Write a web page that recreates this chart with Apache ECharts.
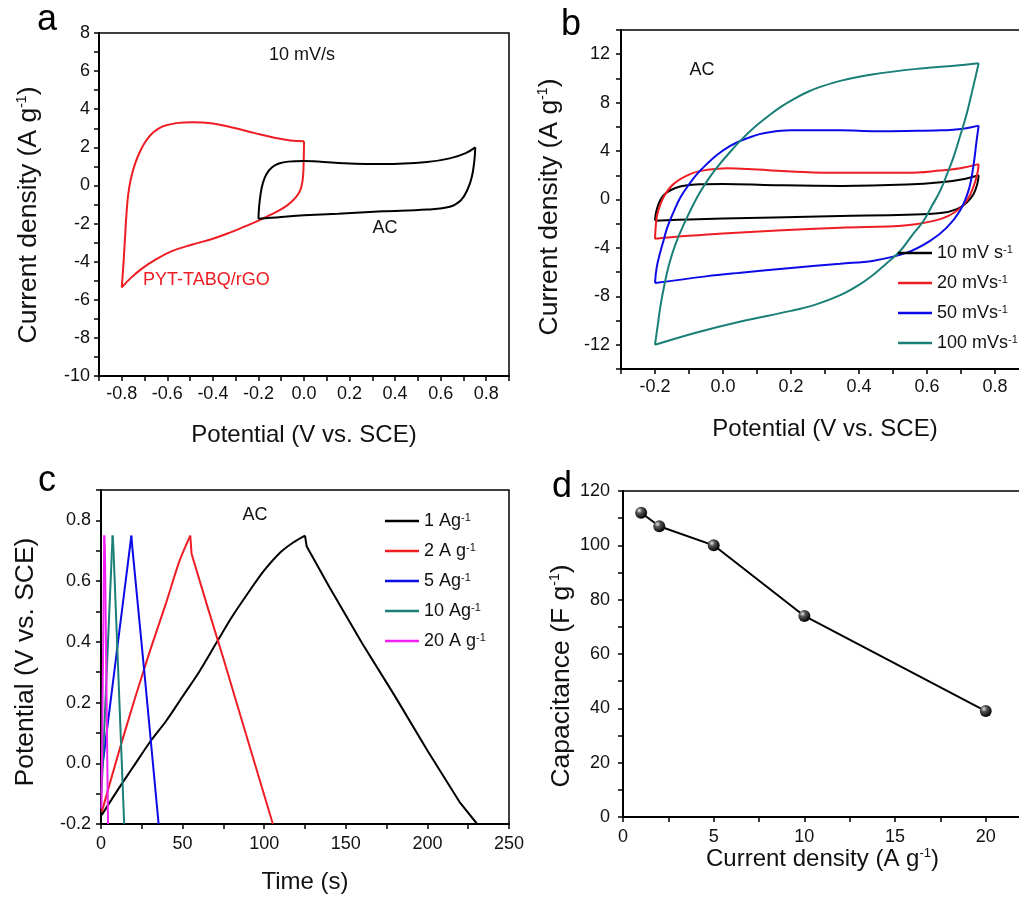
<!DOCTYPE html>
<html>
<head>
<meta charset="utf-8">
<script src="https://cdn.jsdelivr.net/npm/echarts@6/dist/echarts.min.js"></script>
<style>
  html, body { margin: 0; padding: 0; background: #fff; }
  #chart { width: 1019px; height: 898px; }
</style>
</head>
<body>
<div id="chart"></div>
<script>
// ---------- (a) CV at 10 mV/s, PYT-TABQ/rGO: [potential V, current A/g] ----------
const pytAnodic = [
  [-0.80,-5.35],[-0.792,-4.0],[-0.786,-2.8],[-0.78,-1.6],[-0.772,-0.5],[-0.76,0.35],[-0.74,1.2],
  [-0.715,1.9],[-0.69,2.4],[-0.66,2.8],[-0.62,3.1],[-0.56,3.27],[-0.49,3.32],[-0.40,3.25],
  [-0.31,3.03],[-0.22,2.76],[-0.13,2.5],[-0.06,2.36],[0.0,2.32]
];
const pytCathodic = [
  [0.0,2.32],[-0.001,1.5],[-0.004,0.5],[-0.012,-0.1],[-0.025,-0.45],[-0.05,-0.8],[-0.09,-1.18],
  [-0.14,-1.5],[-0.2,-1.85],[-0.26,-2.15],[-0.32,-2.45],[-0.40,-2.8],[-0.49,-3.1],[-0.58,-3.45],
  [-0.65,-3.88],[-0.71,-4.35],[-0.76,-4.85],[-0.80,-5.35]
];

// ---------- (a, b) AC CV loops at several scan rates ----------
const ac10Anodic = [
  [-0.2,-1.75],[-0.197,-1.1],[-0.19,-0.4],[-0.18,0.15],[-0.165,0.59],[-0.14,0.95],[-0.11,1.15],
  [-0.07,1.25],[0.0,1.28],[0.15,1.18],[0.35,1.12],[0.54,1.23],[0.64,1.42],[0.71,1.7],[0.752,2.0]
];
const ac10Cathodic = [
  [0.752,2.0],[0.748,1.3],[0.737,0.46],[0.717,-0.24],[0.688,-0.79],[0.64,-1.12],[0.54,-1.26],
  [0.345,-1.36],[0.15,-1.48],[0.0,-1.57],[-0.1,-1.65],[-0.2,-1.75]
];
const ac20Anodic = [
  [-0.2,-3.25],[-0.198,-2.3],[-0.193,-1.2],[-0.175,0.18],[-0.145,1.29],[-0.095,2.12],[-0.046,2.45],
  [0.013,2.58],[0.1,2.47],[0.2,2.32],[0.345,2.2],[0.54,2.2],[0.64,2.39],[0.697,2.58],[0.752,2.92]
];
const ac20Cathodic = [
  [0.752,2.92],[0.748,2.12],[0.736,1.0],[0.717,-0.1],[0.688,-0.93],[0.639,-1.62],[0.541,-2.12],
  [0.345,-2.33],[0.16,-2.57],[0.0,-2.8],[-0.1,-3.0],[-0.2,-3.25]
];
const ac50Anodic = [
  [-0.2,-6.9],[-0.195,-5.6],[-0.185,-4.4],[-0.175,-3.4],[-0.164,-2.32],[-0.145,-1.0],[-0.125,0.18],
  [-0.1,1.25],[-0.076,2.12],[-0.045,3.0],[-0.017,3.7],[0.02,4.4],[0.052,4.85],[0.09,5.25],
  [0.12,5.47],[0.198,5.71],[0.345,5.71],[0.45,5.64],[0.54,5.66],[0.64,5.71],[0.707,5.85],[0.752,6.1]
];
const ac50Cathodic = [
  [0.752,6.1],[0.746,4.88],[0.736,2.67],[0.722,0.73],[0.697,-0.93],[0.658,-2.32],[0.609,-3.42],
  [0.541,-4.39],[0.443,-5.05],[0.345,-5.3],[0.2,-5.65],[0.052,-6.05],[-0.05,-6.35],[-0.2,-6.9]
];
const ac100Anodic = [
  [-0.2,-12.0],[-0.192,-10.4],[-0.184,-8.8],[-0.172,-7.0],[-0.158,-5.3],[-0.14,-3.7],[-0.115,-2.04],
  [-0.076,0.18],[-0.045,1.6],[-0.017,2.67],[0.02,3.9],[0.052,4.88],[0.09,5.9],[0.13,6.82],
  [0.17,7.65],[0.208,8.3],[0.25,8.9],[0.286,9.3],[0.345,9.8],[0.443,10.35],[0.59,10.85],
  [0.68,11.05],[0.752,11.25]
];
const ac100Cathodic = [
  [0.752,11.25],[0.735,9.2],[0.717,7.1],[0.698,5.3],[0.678,3.5],[0.659,2.1],[0.639,0.73],
  [0.615,-0.5],[0.59,-1.76],[0.555,-3.0],[0.521,-4.25],[0.48,-5.3],[0.443,-6.19],[0.4,-7.05],
  [0.345,-7.9],[0.27,-8.7],[0.2,-9.2],[0.052,-10.07],[-0.08,-11.0],[-0.2,-12.0]
];
const cvRateNames = ['10 mV s', '20 mVs', '50 mVs', '100 mVs'];

// ---------- (c) galvanostatic charge/discharge, [time s, potential V] ----------
const gcd1Charge = [
  [0.5,-0.17],[10,-0.09],[20,-0.01],[30,0.07],[40,0.14],[50,0.22],[60,0.30],[70,0.39],[80,0.48],
  [90,0.56],[100,0.635],[110,0.695],[118,0.728],[125,0.75]
];
const gcd1Discharge = [[125,0.75],[126,0.715],[140,0.58],[160,0.395],[180,0.222],[200,0.042],[220,-0.13],[230.5,-0.2]];
const gcd2Charge = [[0.5,-0.16],[10,0.02],[20,0.2],[30,0.37],[40,0.53],[48,0.665],[54.7,0.75]];
const gcd2Discharge = [[54.7,0.75],[55.5,0.69],[65,0.52],[75,0.345],[85,0.165],[95,-0.015],[105.3,-0.2]];
const gcd5Charge = [[0.2,-0.04],[8.8,0.33],[18.6,0.75]];
const gcd5Discharge = [[18.6,0.75],[19.2,0.71],[27.1,0.27],[35.3,-0.2]];
const gcd10Charge = [[0.3,-0.1],[7.1,0.75]];
const gcd10Discharge = [[7.1,0.75],[7.6,0.71],[14.2,-0.2]];
const gcd20Charge = [[0.3,-0.15],[2.0,0.75]];
const gcd20Discharge = [[2.0,0.75],[2.4,0.70],[4.3,-0.2]];
const gcdNames = ['1 Ag', '2 A g', '5 Ag', '10 Ag', '20 A g'];

// ---------- (d) rate capability ----------
const rateCurrent = [1, 2, 5, 10, 20];
const rateCapacitance = [112, 107, 100, 74, 39];

// ---------- labelled tick values ----------
const aTicksX = [-0.8, -0.6, -0.4, -0.2, 0.0, 0.2, 0.4, 0.6, 0.8];
const aTicksY = [-10, -8, -6, -4, -2, 0, 2, 4, 6, 8];
const bTicksX = [-0.2, 0.0, 0.2, 0.4, 0.6, 0.8];
const bTicksY = [-12, -8, -4, 0, 4, 8, 12];
const cTicksX = [0, 50, 100, 150, 200, 250];
const cTicksY = [-0.2, 0.0, 0.2, 0.4, 0.6, 0.8];
const dTicksX = [0, 5, 10, 15, 20];
const dTicksY = [0, 20, 40, 60, 80, 100, 120];

const FONT = '"Liberation Sans", Arial, Helvetica, sans-serif';
const INK = '#111';

function tickFormatter(list, digits) {
  return function (v) {
    return list.some(t => Math.abs(t - v) < 1e-6) ? v.toFixed(digits) : '';
  };
}

// value axis with outward ticks; only the listed values get a label
function valueAxis(gridIndex, cfg) {
  const nameSize = cfg.nameSize || 24;
  return {
    type: 'value',
    gridIndex: gridIndex,
    min: cfg.min, max: cfg.max, interval: cfg.interval,
    name: cfg.name, nameLocation: 'middle', nameGap: cfg.nameGap,
    nameTextStyle: {
      fontSize: nameSize, fontFamily: FONT, color: INK,
      padding: cfg.namePad || 0,
      rich: { s: { fontSize: Math.round(nameSize * 0.54), verticalAlign: 'top', fontFamily: FONT, color: INK } }
    },
    axisLine: { show: true, onZero: false, lineStyle: { color: '#000', width: 2 } },
    axisTick: { show: true, inside: false, length: 5, lineStyle: { color: '#000', width: 1.5 } },
    splitLine: { show: false },
    axisLabel: {
      fontSize: 18, fontFamily: FONT, color: INK, margin: cfg.margin,
      formatter: tickFormatter(cfg.ticks, cfg.digits)
    }
  };
}

function curve(name, data, color, xi, smooth) {
  return {
    type: 'line', name: name, data: data, xAxisIndex: xi, yAxisIndex: xi,
    showSymbol: false, symbol: 'none', smooth: smooth, color: color,
    lineStyle: { color: color, width: 2 }, silent: true
  };
}

const RED = '#ee1d23', BLUE = '#0b0be8', TEAL = '#1a8077', BLACK = '#000', MAGENTA = '#f21ff2';
const CV_SMOOTH = 0.4;

const legendText = {
  fontSize: 18, fontFamily: FONT, color: INK,
  rich: { s: { fontSize: 11, verticalAlign: 'top', fontFamily: FONT, color: INK } }
};

const gridBase = { show: true, borderColor: '#000', borderWidth: 1.5, outerBoundsMode: 'none', containLabel: false };

const textStyle = (text, size, fill, align) => ({
  text: text, fontSize: size, fontFamily: FONT, fill: fill,
  align: align, verticalAlign: 'middle', textAlign: align, textVerticalAlign: 'middle'
});

const option = {
  animation: false,
  backgroundColor: '#fff',
  grid: [
    Object.assign({ left: 99, right: 510, top: 33, bottom: 522 }, gridBase),
    Object.assign({ left: 621, right: -10, top: 30, bottom: 529 }, gridBase),
    Object.assign({ left: 101, right: 510, top: 490, bottom: 74 }, gridBase),
    Object.assign({ left: 623, right: -3, top: 491, bottom: 81 }, gridBase)
  ],
  xAxis: [
    valueAxis(0, { min: -0.9, max: 0.9, interval: 0.1, ticks: aTicksX, digits: 1, margin: 9,
      name: 'Potential (V vs. SCE)', nameGap: 47 }),
    valueAxis(1, { min: -0.3, max: 0.9, interval: 0.1, ticks: bTicksX, digits: 1, margin: 9,
      name: 'Potential (V vs. SCE)', nameGap: 48 }),
    valueAxis(2, { min: 0, max: 250, interval: 25, ticks: cTicksX, digits: 0, margin: 11,
      name: 'Time (s)', nameGap: 46 }),
    valueAxis(3, { min: 0, max: 22, interval: 2.5, ticks: dTicksX, digits: 0, margin: 11,
      name: 'Current density (A g{s|-1})', nameGap: 29 })
  ],
  yAxis: [
    valueAxis(0, { min: -10, max: 8, interval: 1, ticks: aTicksY, digits: 0, margin: 9,
      name: 'Current density (A g{s|-1})', nameGap: 57, nameSize: 26.5, namePad: [0, 21, 0, 0] }),
    valueAxis(1, { min: -14, max: 14, interval: 2, ticks: bTicksY, digits: 0, margin: 11,
      name: 'Current density (A g{s|-1})', nameGap: 58, nameSize: 26.5, namePad: [0, 15, 0, 0] }),
    valueAxis(2, { min: -0.2, max: 0.9, interval: 0.1, ticks: cTicksY, digits: 1, margin: 10,
      name: 'Potential (V vs. SCE)', nameGap: 62, nameSize: 26.5, namePad: [0, 10, 0, 0] }),
    valueAxis(3, { min: 0, max: 120, interval: 10, ticks: dTicksY, digits: 0, margin: 13,
      name: 'Capacitance (F g{s|-1})', nameGap: 48, nameSize: 26.5, namePad: [0, 44, 0, 0] })
  ],
  legend: [
    {
      data: cvRateNames, orient: 'vertical', left: 898, top: 244, padding: 0,
      icon: 'rect', itemWidth: 34, itemHeight: 2.5, itemGap: 12, selectedMode: false,
      formatter: n => n + '{s|-1}', textStyle: legendText
    },
    {
      data: gcdNames, orient: 'vertical', left: 385, top: 512, padding: 0,
      icon: 'rect', itemWidth: 34, itemHeight: 2.5, itemGap: 12, selectedMode: false,
      formatter: n => n + '{s|-1}', textStyle: legendText
    }
  ],
  series: [
    // (a)
    curve('PYT-TABQ/rGO', pytAnodic, RED, 0, CV_SMOOTH),
    curve('PYT-TABQ/rGO', pytCathodic, RED, 0, CV_SMOOTH),
    curve('AC', ac10Anodic, BLACK, 0, CV_SMOOTH),
    curve('AC', ac10Cathodic, BLACK, 0, CV_SMOOTH),
    // (b)
    curve(cvRateNames[0], ac10Anodic, BLACK, 1, CV_SMOOTH),
    curve(cvRateNames[0], ac10Cathodic, BLACK, 1, CV_SMOOTH),
    curve(cvRateNames[1], ac20Anodic, RED, 1, CV_SMOOTH),
    curve(cvRateNames[1], ac20Cathodic, RED, 1, CV_SMOOTH),
    curve(cvRateNames[2], ac50Anodic, BLUE, 1, CV_SMOOTH),
    curve(cvRateNames[2], ac50Cathodic, BLUE, 1, CV_SMOOTH),
    curve(cvRateNames[3], ac100Anodic, TEAL, 1, CV_SMOOTH),
    curve(cvRateNames[3], ac100Cathodic, TEAL, 1, CV_SMOOTH),
    // (c)
    curve(gcdNames[0], gcd1Charge, BLACK, 2, 0.3),
    curve(gcdNames[0], gcd1Discharge, BLACK, 2, false),
    curve(gcdNames[1], gcd2Charge, RED, 2, 0.3),
    curve(gcdNames[1], gcd2Discharge, RED, 2, false),
    curve(gcdNames[2], gcd5Charge, BLUE, 2, false),
    curve(gcdNames[2], gcd5Discharge, BLUE, 2, false),
    curve(gcdNames[3], gcd10Charge, TEAL, 2, false),
    curve(gcdNames[3], gcd10Discharge, TEAL, 2, false),
    curve(gcdNames[4], gcd20Charge, MAGENTA, 2, false),
    curve(gcdNames[4], gcd20Discharge, MAGENTA, 2, false),
    // (d)
    {
      type: 'line', name: 'Capacitance', xAxisIndex: 3, yAxisIndex: 3,
      data: rateCurrent.map((c, i) => [c, rateCapacitance[i]]),
      symbol: 'circle', symbolSize: 12, showSymbol: true,
      lineStyle: { color: '#000', width: 2 },
      itemStyle: {
        color: {
          type: 'radial', x: 0.35, y: 0.32, r: 0.7,
          colorStops: [
            { offset: 0, color: '#e8e8e8' },
            { offset: 0.35, color: '#555' },
            { offset: 1, color: '#000' }
          ]
        },
        borderWidth: 0
      },
      silent: true
    }
  ],
  graphic: [
    { type: 'text', x: 47, y: 20, style: textStyle('a', 36, '#000', 'center') },
    { type: 'text', x: 571, y: 25, style: textStyle('b', 36, '#000', 'center') },
    { type: 'text', x: 47, y: 481, style: textStyle('c', 36, '#000', 'center') },
    { type: 'text', x: 562, y: 487, style: textStyle('d', 36, '#000', 'center') },
    { type: 'text', x: 302, y: 55, style: textStyle('10 mV/s', 18, INK, 'center') },
    { type: 'text', x: 385, y: 228, style: textStyle('AC', 18, INK, 'center') },
    { type: 'text', x: 143, y: 280, style: textStyle('PYT-TABQ/rGO', 18, RED, 'left') },
    { type: 'text', x: 702, y: 70, style: textStyle('AC', 18, INK, 'center') },
    { type: 'text', x: 255, y: 515, style: textStyle('AC', 18, INK, 'center') }
  ]
};

const chart = echarts.init(document.getElementById('chart'), null, { renderer: 'canvas' });
chart.setOption(option);
</script>
</body>
</html>
